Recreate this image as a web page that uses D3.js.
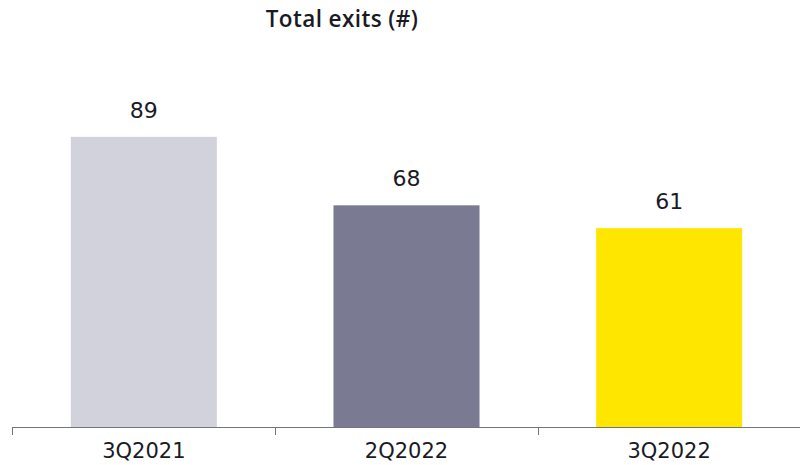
<!DOCTYPE html>
<html><head><meta charset="utf-8">
<script src="https://cdn.jsdelivr.net/npm/d3@7"></script>
<style>body{margin:0;background:#fff}svg{display:block}</style>
</head><body>
<svg id="c" width="800" height="465"></svg>
<script>
const categories = ["3Q2021", "2Q2022", "3Q2022"];
const values = [89, 68, 61];
const colors = ["#d2d2dc", "#7b7a93", "#ffe600"];
const title = "Total exits (#)";

const svg = d3.select("#c");
const x = d3.scaleBand().domain(categories).range([12.5, 800.5]).paddingInner(0.444).paddingOuter(0.222);
const y = d3.scaleLinear().domain([0, 100]).range([427, 101]);

svg.append("text").attr("x", 342).attr("y", 27).attr("text-anchor", "middle")
  .attr("font-family", "'Open Sans', sans-serif").attr("font-weight", 600)
  .attr("font-size", 22.5).attr("letter-spacing", 0.4).attr("fill", "#1a1a24").text(title);

svg.selectAll("rect.bar").data(values).join("rect").attr("class", "bar")
  .attr("x", (d, i) => x(categories[i])).attr("width", x.bandwidth())
  .attr("y", d => y(d)).attr("height", d => y(0) - y(d))
  .attr("fill", (d, i) => colors[i]);

svg.selectAll("text.val").data(values).join("text").attr("class", "val")
  .attr("x", (d, i) => x(categories[i]) + x.bandwidth() / 2)
  .attr("y", d => y(d) - 19).attr("text-anchor", "middle")
  .attr("font-family", "'DejaVu Sans', sans-serif").attr("font-size", 22)
  .attr("fill", "#1a1a24").text(d => d);

// axis
const step = x.step();
const ax = svg.append("g");
ax.append("line").attr("x1", 12).attr("x2", 800).attr("y1", 427.5).attr("y2", 427.5)
  .attr("stroke", "#747480").attr("stroke-width", 1);
const tickXs = d3.range(categories.length).map(i => x(categories[i]) - x.paddingInner() * step / 2);
ax.selectAll("line.tk").data(tickXs).join("line").attr("class", "tk")
  .attr("x1", d => Math.round(d) + 0.5).attr("x2", d => Math.round(d) + 0.5)
  .attr("y1", 427).attr("y2", 435).attr("stroke", "#747480");
ax.selectAll("text.cat").data(categories).join("text").attr("class", "cat")
  .attr("x", d => x(d) + x.bandwidth() / 2).attr("y", 458).attr("text-anchor", "middle")
  .attr("font-family", "'DejaVu Sans', sans-serif").attr("font-size", 21)
  .attr("fill", "#1a1a24").text(d => d);
</script>
</body></html>
